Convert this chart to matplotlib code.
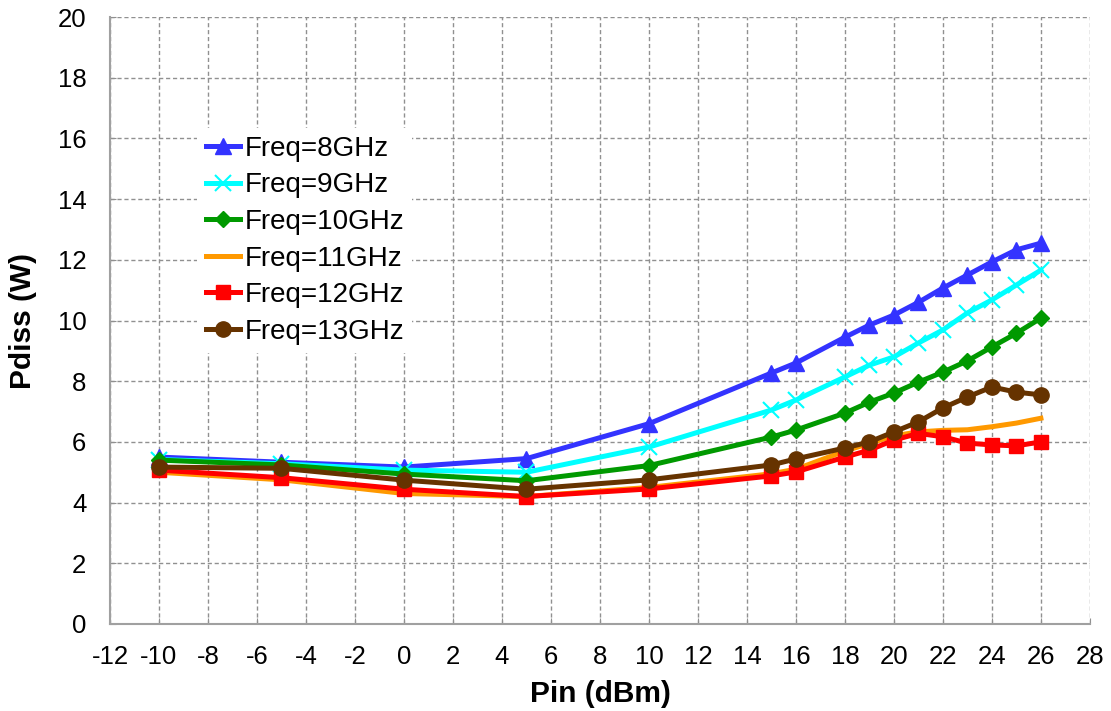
import matplotlib
matplotlib.use("Agg")
import matplotlib.pyplot as plt

pin = [-10, -5, 0, 5, 10, 15, 16, 18, 19, 20, 21, 22, 23, 24, 25, 26]

f8 = [5.5, 5.33, 5.17, 5.45, 6.6, 8.27, 8.6, 9.45, 9.85, 10.18, 10.6, 11.07, 11.5, 11.93, 12.33, 12.55]
f9 = [5.42, 5.28, 5.07, 5.0, 5.83, 7.05, 7.38, 8.14, 8.53, 8.8, 9.26, 9.69, 10.25, 10.68, 11.17, 11.66]
f10 = [5.4, 5.24, 4.94, 4.72, 5.22, 6.16, 6.39, 6.95, 7.31, 7.61, 7.97, 8.3, 8.67, 9.13, 9.58, 10.08]
f11 = [5.0, 4.75, 4.3, 4.2, 4.5, 4.95, 5.1, 5.7, 5.95, 6.2, 6.33, 6.38, 6.4, 6.5, 6.62, 6.78]
f12 = [5.07, 4.82, 4.44, 4.2, 4.45, 4.88, 5.01, 5.5, 5.73, 6.06, 6.28, 6.17, 5.96, 5.9, 5.87, 6.0]
f13 = [5.17, 5.13, 4.74, 4.44, 4.75, 5.24, 5.44, 5.8, 6.0, 6.33, 6.66, 7.12, 7.48, 7.81, 7.64, 7.55]

labels = ["Freq=8GHz", "Freq=9GHz", "Freq=10GHz", "Freq=11GHz", "Freq=12GHz", "Freq=13GHz"]
series = [f8, f9, f10, f11, f12, f13]
colors = ["#3333FF", "#00FFFF", "#009900", "#FF9900", "#FF0000", "#663300"]
markers = ["^", "x", "D", None, "s", "o"]
msizes = [11, 12, 8, 0, 10, 11]

xticks = list(range(-12, 29, 2))
yticks = list(range(0, 21, 2))

plt.rcParams['font.family'] = ['Liberation Sans', 'DejaVu Sans']

fig = plt.figure(figsize=(11.11, 7.11), dpi=100)
ax = fig.add_axes([0.099, 0.1224, 0.882, 0.8536])

for y, lab, c, m, ms in zip(series, labels, colors, markers, msizes):
    kw = {}
    if m == "x":
        kw = dict(markeredgewidth=1.5)
    ax.plot(pin, y, color=c, lw=3.6, marker=m, markersize=ms, label=lab,
            markeredgecolor=c, markerfacecolor=c, **kw)

ax.set_xlim(-12, 28)
ax.set_ylim(0, 20)
ax.set_xticks(xticks)
ax.set_yticks(yticks)
ax.tick_params(axis='both', labelsize=18.5, direction='in', length=4, color='#909090')
ax.tick_params(axis='x', pad=15)
ax.tick_params(axis='y', pad=17)
ax.set_xticklabels([str(t) for t in xticks])
ax.grid(True, color='#909090', linestyle=(0, (3, 2)), linewidth=1)
ax.set_axisbelow(True)
for s in ['top', 'right']:
    ax.spines[s].set_visible(False)
for s in ['left', 'bottom']:
    ax.spines[s].set_color('#a0a0a0')
    ax.spines[s].set_linewidth(1.5)

ax.set_xlabel("Pin (dBm)", fontsize=21.5, fontweight='bold', labelpad=8)
ax.set_ylabel("Pdiss (W)", fontsize=21.5, fontweight='bold', labelpad=15)

leg = ax.legend(loc='upper left', bbox_to_anchor=(0.089, 0.818), frameon=True,
                fancybox=False, facecolor='white', edgecolor='none', framealpha=1,
                borderpad=0.3,
                fontsize=20, handlelength=1.25, handletextpad=0.15, labelspacing=0.38,
                borderaxespad=0)

fig.savefig("out.png", dpi=100)
